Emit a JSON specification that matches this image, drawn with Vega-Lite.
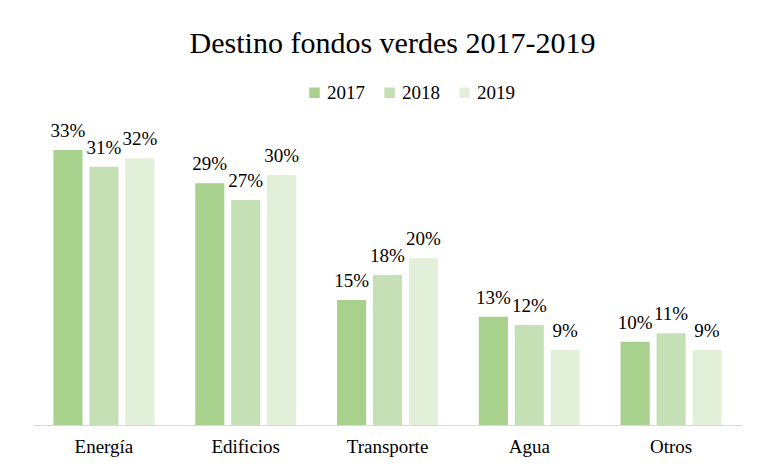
{
  "$schema": "https://vega.github.io/schema/vega-lite/v6.json",
  "autosize": "none",
  "width": 709,
  "height": 300,
  "padding": {"left": 33, "top": 125, "right": 21, "bottom": 39},
  "background": "white",
  "title": {
    "text": "Destino fondos verdes 2017-2019",
    "font": "Liberation Serif, Times New Roman, serif",
    "fontSize": 30,
    "fontWeight": "normal",
    "color": "#000000",
    "anchor": "middle",
    "offset": 24,
    "dx": 5
  },
  "data": {
    "values": [
      {"cat": "Energía", "year": "2017", "v": 0.33},
      {"cat": "Energía", "year": "2018", "v": 0.31},
      {"cat": "Energía", "year": "2019", "v": 0.32},
      {"cat": "Edificios", "year": "2017", "v": 0.29},
      {"cat": "Edificios", "year": "2018", "v": 0.27},
      {"cat": "Edificios", "year": "2019", "v": 0.30},
      {"cat": "Transporte", "year": "2017", "v": 0.15},
      {"cat": "Transporte", "year": "2018", "v": 0.18},
      {"cat": "Transporte", "year": "2019", "v": 0.20},
      {"cat": "Agua", "year": "2017", "v": 0.13},
      {"cat": "Agua", "year": "2018", "v": 0.12},
      {"cat": "Agua", "year": "2019", "v": 0.09},
      {"cat": "Otros", "year": "2017", "v": 0.10},
      {"cat": "Otros", "year": "2018", "v": 0.11},
      {"cat": "Otros", "year": "2019", "v": 0.09}
    ]
  },
  "encoding": {
    "x": {
      "field": "cat",
      "type": "nominal",
      "sort": null,
      "scale": {"paddingInner": 0.288, "paddingOuter": 0.144},
      "axis": {
        "title": null,
        "labelAngle": 0,
        "ticks": false,
        "domainColor": "#D9D9D9",
        "domainWidth": 1,
        "labelFont": "Liberation Serif, Times New Roman, serif",
        "labelFontSize": 19,
        "labelColor": "#000000",
        "labelPadding": 12
      }
    },
    "xOffset": {
      "field": "year",
      "type": "nominal",
      "scale": {"paddingInner": 0.19, "paddingOuter": 0}
    },
    "y": {
      "field": "v",
      "type": "quantitative",
      "scale": {"domain": [0, 0.36], "nice": false},
      "axis": null
    }
  },
  "layer": [
    {
      "mark": {"type": "bar"},
      "encoding": {
        "color": {
          "field": "year",
          "type": "nominal",
          "scale": {"domain": ["2017", "2018", "2019"], "range": ["#A9D18E", "#C5E0B4", "#E2F0D9"]},
          "legend": {
            "title": null,
            "orient": "none",
            "direction": "horizontal",
            "legendX": 272,
            "legendY": -42,
            "symbolType": "square",
            "symbolSize": 110,
            "symbolStrokeWidth": 0,
            "labelFont": "Liberation Serif, Times New Roman, serif",
            "labelFontSize": 19,
            "labelColor": "#000000",
            "labelOffset": 3,
            "columnPadding": 15,
            "padding": 0
          }
        }
      }
    },
    {
      "mark": {"type": "text", "baseline": "alphabetic", "dy": -13, "font": "Liberation Serif, Times New Roman, serif", "fontSize": 19, "color": "#000000"},
      "encoding": {
        "text": {"field": "v", "type": "quantitative", "format": ".0%"},
        "detail": {"field": "year"}
      }
    }
  ],
  "config": {
    "view": {"stroke": null}
  }
}
